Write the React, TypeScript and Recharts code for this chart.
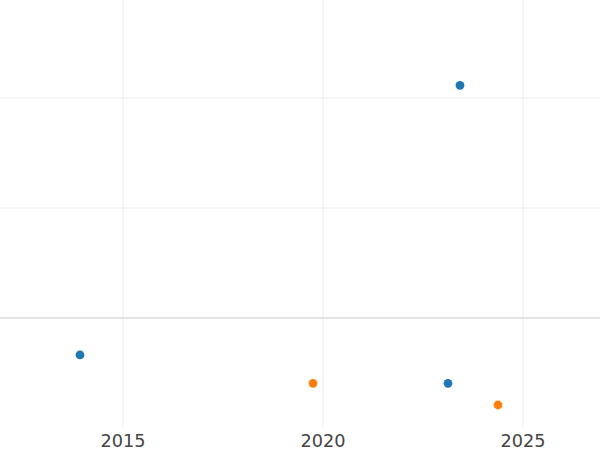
import React from "react";
import { ScatterChart, Scatter, XAxis, YAxis, ReferenceLine } from "recharts";

const blueYears = [2013.925, 2023.425, 2023.125];
const blueValues = [-0.336, 2.115, -0.594];
const orangeYears = [2019.75, 2024.375];
const orangeValues = [-0.594, -0.791];
const xTicks = [2015, 2020, 2025];
const yTicks = [1, 2];

const blue = blueYears.map((x, i) => ({ x, y: blueValues[i] }));
const orange = orangeYears.map((x, i) => ({ x, y: orangeValues[i] }));

const Dot = (color: string) => (props: any) => (
  <circle cx={props.cx} cy={props.cy} r={4.4} fill={color} />
);

export default function App() {
  return (
    <div style={{ position: "absolute", left: 0, top: 0, width: 600, height: 450, background: "#fff" }}>
      <ScatterChart width={600} height={450} margin={{ top: 0, right: 0, bottom: 0, left: 0 }}>
        <XAxis
          type="number"
          dataKey="x"
          domain={[2011.925, 2026.925]}
          ticks={xTicks}
          axisLine={false}
          tickLine={false}
          tickSize={0}
          tickMargin={7}
          height={23}
          allowDataOverflow
          tick={{ fill: "#444", fontSize: 17.7, fontFamily: "DejaVu Sans" }}
        />
        <YAxis type="number" dataKey="y" domain={[-0.991, 2.891]} ticks={yTicks} hide allowDataOverflow />
        {xTicks.map((t) => (
          <ReferenceLine key={"x" + t} x={t} stroke="#ebebeb" strokeWidth={1} />
        ))}
        {yTicks.map((t) => (
          <ReferenceLine key={"y" + t} y={t} stroke="#ebebeb" strokeWidth={1} />
        ))}
        <ReferenceLine y={0} stroke="#e3e3e3" strokeWidth={2} />
        <Scatter data={blue} fill="#1f77b4" shape={Dot("#1f77b4")} isAnimationActive={false} />
        <Scatter data={orange} fill="#ff7f0e" shape={Dot("#ff7f0e")} isAnimationActive={false} />
      </ScatterChart>
    </div>
  );
}
